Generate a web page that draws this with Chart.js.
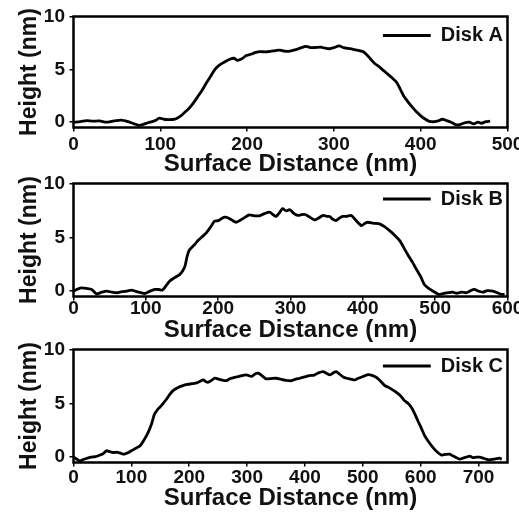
<!DOCTYPE html>
<html>
<head>
<meta charset="utf-8">
<script src="https://cdn.jsdelivr.net/npm/chart.js@4"></script>
<style>
html,body{margin:0;padding:0;overflow:hidden;background:#fff;width:519px;height:514px;}
canvas{position:absolute;left:0;}
</style>
</head>
<body>
<canvas id="ca" width="540" height="180" style="top:0px"></canvas>
<canvas id="cb" width="540" height="182" style="top:167px"></canvas>
<canvas id="cc" width="540" height="182" style="top:333px"></canvas>
<script>
// ---- data ----
const seriesNames = ['Disk A', 'Disk B', 'Disk C'];
const yTicks = [0, 5, 10];
const xTicksA = [0, 100, 200, 300, 400, 500];
const xTicksB = [0, 100, 200, 300, 400, 500, 600];
const xTicksC = [0, 100, 200, 300, 400, 500, 600, 700];
const xAxisMax = [500, 600, 750];

const xA = [0,8,15,22,30,38,45,55,63,70,76,82,88,94,99,104,110,117,122,127,133,138,143,148,153,158,163,168,174,180,185,189,194,199,205,210,215,221,227,233,238,243,249,255,261,268,274,280,285,290,295,300,306,311,316,322,328,333,337,342,347,352,357,362,367,372,376,381,386,391,395,400,405,410,416,420,425,430,435,441,446,451,456,461,466,470,475,480];
const yA = [0.0,0.05,0.15,0.1,0.12,0.0,0.1,0.2,0.05,-0.15,-0.3,-0.15,0.0,0.15,0.38,0.28,0.25,0.3,0.5,0.85,1.3,1.8,2.4,3.0,3.7,4.35,5.0,5.4,5.7,5.95,6.05,5.85,6.0,6.3,6.45,6.6,6.68,6.65,6.7,6.78,6.82,6.72,6.72,6.85,7.0,7.17,7.05,7.08,7.1,7.0,6.95,7.05,7.23,7.05,6.98,6.9,6.8,6.7,6.45,6.0,5.55,5.25,4.9,4.55,4.2,3.8,3.2,2.4,1.85,1.35,1.0,0.6,0.3,0.08,0.05,0.12,0.28,0.15,0.0,-0.25,-0.2,-0.05,0.0,-0.15,0.0,-0.1,0.05,0.1];

const xB = [0,6,11,18,25,32,39,46,53,60,67,74,80,87,93,99,106,113,118,123,128,133,140,147,151,154,157,160,164,168,172,177,182,186,190,195,200,205,209,214,219,225,231,237,243,250,257,264,271,276,280,285,289,294,299,305,310,315,320,326,333,339,345,350,354,358,363,368,372,378,384,390,398,403,407,415,423,430,437,444,451,457,463,469,474,480,485,491,497,502,506,512,518,524,530,536,543,548,554,560,566,572,580,586,591,596];
const yB = [0.0,0.2,0.3,0.25,0.16,-0.25,-0.1,0.0,-0.1,-0.15,-0.05,0.0,0.1,-0.05,-0.15,-0.22,0.0,0.16,0.15,0.1,0.5,0.94,1.25,1.56,1.9,2.3,3.2,3.8,4.1,4.37,4.7,5.0,5.3,5.62,6.0,6.5,6.55,6.75,6.87,6.8,6.6,6.4,6.6,6.85,7.09,7.0,7.0,7.2,7.34,7.1,6.94,7.3,7.66,7.45,7.56,7.2,7.03,7.1,7.12,6.9,6.62,6.8,7.03,6.95,6.94,6.7,6.56,6.8,6.94,6.95,7.03,6.6,6.09,6.3,6.4,6.3,6.25,6.0,5.62,5.2,4.69,4.0,3.28,2.65,2.03,1.35,0.62,0.25,0.0,-0.2,-0.31,-0.2,-0.15,-0.1,-0.2,-0.1,-0.15,0.0,0.16,0.0,-0.1,0.05,0.0,-0.15,-0.3,-0.3];

const xC = [0,6,11,18,24,30,38,46,52,57,63,69,76,82,88,94,100,107,115,122,129,135,140,145,149,155,161,166,172,180,189,197,205,213,219,224,229,233,239,244,251,258,264,271,279,286,293,299,304,308,313,319,325,333,341,350,358,365,371,377,384,391,399,408,415,422,431,437,443,448,454,460,466,472,479,486,491,497,503,509,516,523,530,538,544,550,558,565,572,578,584,590,595,601,607,614,621,628,636,643,650,656,662,667,673,679,685,690,696,702,708,714,719,725,731,736,740];
const yC = [0.0,-0.2,-0.35,-0.2,-0.1,0.0,0.05,0.19,0.35,0.59,0.5,0.43,0.45,0.35,0.28,0.4,0.59,0.8,1.05,1.6,2.3,3.1,4.0,4.4,4.62,5.0,5.4,5.8,6.18,6.45,6.64,6.75,6.82,6.9,7.05,7.17,7.0,6.96,7.15,7.33,7.25,7.15,7.11,7.3,7.42,7.5,7.6,7.64,7.55,7.5,7.7,7.8,7.6,7.27,7.3,7.33,7.25,7.15,7.11,7.1,7.25,7.33,7.45,7.58,7.6,7.8,7.95,7.8,7.64,7.8,7.95,7.7,7.45,7.33,7.25,7.17,7.3,7.42,7.55,7.67,7.6,7.42,7.1,6.64,6.5,6.3,6.02,5.7,5.25,5.0,4.62,4.0,3.38,2.7,1.98,1.4,0.9,0.5,0.19,0.25,0.28,0.1,-0.05,-0.19,-0.1,0.0,0.1,-0.05,0.0,0.0,-0.1,-0.2,-0.25,-0.2,-0.15,-0.1,-0.2];

// ---- helpers ----
const FONT = '"Liberation Sans", Arial, Helvetica, sans-serif';
const INK = '#111';

const framePlugin = {
  id: 'frame',
  afterDatasetsDraw(chart) {
    const a = chart.chartArea, ctx = chart.ctx;
    ctx.save();
    ctx.strokeStyle = '#000';
    ctx.lineWidth = 2.5;
    ctx.strokeRect(a.left, a.top, a.right - a.left, a.bottom - a.top);
    ctx.restore();
  }
};

// give the rotated y title room beyond the plot height (no squeezing)
const titleRoom = {
  id: 'titleRoom',
  beforeDraw(chart) {
    const y = chart.scales.y;
    y._t0 = y.top; y._b0 = y.bottom;
    y.top -= 20; y.bottom += 20;
  },
  beforeDatasetsDraw(chart) {
    const y = chart.scales.y;
    if (y._t0 !== undefined) { y.top = y._t0; y.bottom = y._b0; }
  }
};

// place legend inside plot, top-right
const legendMover = {
  id: 'legendMover',
  afterLayout(chart, args, opts) {
    const lg = chart.legend, ca = chart.chartArea;
    if (!lg) return;
    const ctx = chart.ctx;
    ctx.save();
    ctx.font = 'bold 20px ' + FONT;
    const tw = ctx.measureText(chart.data.datasets[0].label).width;
    ctx.restore();
    const w = 48 + 10 + tw;
    lg.left = ca.right - 4.5 - w;
    lg.right = ca.right;
    lg.top = ca.top + (opts.dy || 0);
    lg.bottom = ca.bottom;
  }
};

function build(id, name, xs, ys, xMax, xTicks, cfg) {
  const data = xs.map((x, i) => ({ x: x, y: ys[i] }));
  return new Chart(document.getElementById(id), {
    type: 'line',
    data: {
      datasets: [{
        label: name,
        data: data,
        borderColor: '#000',
        backgroundColor: '#000',
        borderWidth: 2.8,
        pointRadius: 0,
        tension: 0.25,
        fill: false
      }]
    },
    options: {
      responsive: false,
      animation: false,
      events: [],
      layout: { padding: { top: cfg.padTop, left: 0, right: 540 - 507.5, bottom: 0 } },
      plugins: {
        tooltip: { enabled: false },
        legendMover: { dy: cfg.legendDy },
        legend: {
          display: true,
          position: 'chartArea',
          align: 'start',
          labels: {
            usePointStyle: true,
            pointStyle: 'line',
            pointStyleWidth: 48,
            padding: 0,
            textAlign: 'left',
            color: INK,
            font: { family: FONT, size: 20, weight: 'bold', lineHeight: 1 }
          }
        }
      },
      scales: {
        x: {
          type: 'linear',
          min: 0,
          max: xMax,
          afterBuildTicks: s => { s.ticks = xTicks.map(v => ({ value: v })); },
          afterFit: s => { s.height = cfg.axisH; s.paddingLeft = 0; s.paddingRight = 0; },
          ticks: {
            autoSkip: false, maxRotation: 0, minRotation: 0,
            padding: cfg.tickPad,
            color: INK,
            font: { family: FONT, size: 19, weight: 'bold', lineHeight: 1 }
          },
          grid: { drawOnChartArea: false, drawTicks: true, tickLength: 4, color: '#000', lineWidth: 1.5 },
          border: { display: false },
          title: {
            display: true,
            text: 'Surface Distance (nm)',
            color: INK,
            font: { family: FONT, size: 24, weight: 'bold', lineHeight: 1 },
            padding: { top: 0, bottom: cfg.titlePad }
          }
        },
        y: {
          type: 'linear',
          min: -0.5,
          max: 10,
          afterBuildTicks: s => { s.ticks = yTicks.map(v => ({ value: v })); },
          afterFit: s => { s.width = 73.5; s.paddingTop = 0; s.paddingBottom = 0; },
          ticks: {
            padding: 4.5,
            color: INK,
            font: { family: FONT, size: 19, weight: 'bold', lineHeight: 1 }
          },
          grid: { drawOnChartArea: false, drawTicks: true, tickLength: 4, color: '#000', lineWidth: 1.5 },
          border: { display: false },
          title: {
            display: true,
            text: 'Height (nm)',
            color: INK,
            font: { family: FONT, size: 23, weight: 'bold', lineHeight: 1 },
            padding: { top: 18.5, bottom: 0 }
          }
        }
      }
    },
    plugins: [titleRoom, legendMover, framePlugin]
  });
}

build('ca', seriesNames[0], xA, yA, xAxisMax[0], xTicksA,
      { padTop: 16.5, axisH: 180 - 16.5 - 111, tickPad: 3.7, titlePad: 3.5, legendDy: 9 });
build('cb', seriesNames[1], xB, yB, xAxisMax[1], xTicksB,
      { padTop: 16.5, axisH: 182 - 16.5 - 113, tickPad: -1, titlePad: 7, legendDy: 5.5 });
build('cc', seriesNames[2], xC, yC, xAxisMax[2], xTicksC,
      { padTop: 16.5, axisH: 182 - 16.5 - 113, tickPad: 1.5, titlePad: 4.7, legendDy: 6.5 });
</script>
</body>
</html>
